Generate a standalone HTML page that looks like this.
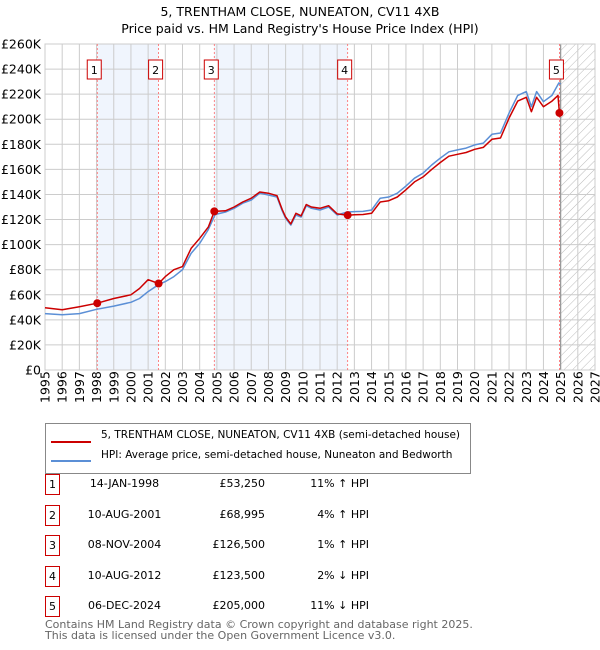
<!DOCTYPE html>
<html><head><meta charset="utf-8">
<style>
body{margin:0;background:#fff;font-family:"DejaVu Sans","Liberation Sans",sans-serif;}
#wrap{position:relative;width:600px;height:650px;overflow:hidden;}
.t{position:absolute;font-size:11px;color:#000;white-space:nowrap;}
.lg{font-size:10.5px;}
.nb{position:absolute;left:45px;width:13px;height:19px;border:1px solid #c00;font-size:11px;text-align:center;line-height:19px;}
</style></head><body>
<div id="wrap">
<svg id="svg" width="600" height="420" style="position:absolute;left:0;top:0"></svg>
<div style="position:absolute;left:45px;top:423px;width:424px;height:49px;border:1px solid #888;">
 <div><div style="position:absolute;left:5px;top:17px;width:40px;height:2px;background:#c00"></div><span class="t lg" style="left:55px;top:5px">5, TRENTHAM CLOSE, NUNEATON, CV11 4XB (semi-detached house)</span></div>
 <div><div style="position:absolute;left:5px;top:36px;width:40px;height:2px;background:#5b8fd6"></div><span class="t lg" style="left:55px;top:25px">HPI: Average price, semi-detached house, Nuneaton and Bedworth</span></div>
</div>
<div id="table"></div>
<div class="t" style="left:45px;top:619px;color:#666;line-height:11px;font-size:11px">Contains HM Land Registry data © Crown copyright and database right 2025.<br>This data is licensed under the Open Government Licence v3.0.</div>
</div>
<script>
const hpiYears=[1995,1996,1997,1998,1999,2000,2000.5,2001,2001.6,2002,2002.5,2003,2003.5,2004,2004.5,2004.9,2005.5,2006,2006.5,2007,2007.5,2008,2008.5,2008.8,2009,2009.3,2009.6,2009.9,2010.2,2010.5,2011,2011.5,2012,2012.6,2013,2013.5,2014,2014.5,2015,2015.5,2016,2016.5,2017,2017.5,2018,2018.5,2019,2019.5,2020,2020.5,2021,2021.5,2022,2022.5,2023,2023.3,2023.6,2024,2024.5,2024.9,2025];
const hpiValues=[45,44,45,48.4,51,54,57,62.5,68,70.5,74.5,80,93,101,112,124,126,129,133,135.6,141,139.6,138,127,121,115.6,123.6,122,131,129,127.6,130,123.6,126,126.3,126.5,127.6,137,138,141,146.7,153,157,163.5,169,174,175.5,177,179.5,181,188,189,205,219,222,210,222,214,219,229,228];
const priceYears=[1995,1996,1997,1998.04,1999,2000,2000.5,2001,2001.61,2002,2002.5,2003,2003.5,2004,2004.5,2004.85,2005.5,2006,2006.5,2007,2007.5,2008,2008.5,2008.8,2009,2009.3,2009.6,2009.9,2010.2,2010.5,2011,2011.5,2012,2012.61,2013,2013.5,2014,2014.5,2015,2015.5,2016,2016.5,2017,2017.5,2018,2018.5,2019,2019.5,2020,2020.5,2021,2021.5,2022,2022.5,2023,2023.3,2023.6,2024,2024.5,2024.85,2024.93,2025];
const priceValues=[49.7,48,50.5,53.25,57,60,65,72,69,74.5,80,82.5,97,105,114,126.5,127,130,134,137,142,141,139,128,122,116.5,125,123,132,130,129,131,124.5,123.5,123.8,124,125,134,135,138,143.7,150,154,160,165.5,170.5,172,173.5,176,177.5,184,185,201,214.5,217.5,206,217.5,210,214.5,219,205,205];
const yTicks=[0,20,40,60,80,100,120,140,160,180,200,220,240,260];
const sales=[{n:1,y:1998.04,v:53.25,d:"14-JAN-1998",p:"£53,250",h:"11% ↑ HPI"},{n:2,y:2001.61,v:68.995,d:"10-AUG-2001",p:"£68,995",h:"4% ↑ HPI"},{n:3,y:2004.85,v:126.5,d:"08-NOV-2004",p:"£126,500",h:"1% ↑ HPI"},{n:4,y:2012.61,v:123.5,d:"10-AUG-2012",p:"£123,500",h:"2% ↓ HPI"},{n:5,y:2024.93,v:205,d:"06-DEC-2024",p:"£205,000",h:"11% ↓ HPI"}];
const L=45,R=595,T=44,B=370,X0=1995,X1=2027,YM=260;
const X=y=>L+(y-X0)/(X1-X0)*(R-L);
const Y=v=>B-v/YM*(B-T);
const NS="http://www.w3.org/2000/svg";
const svg=document.getElementById('svg');
function mk(tag,at,parent){const e=document.createElementNS(NS,tag);for(const k in at)e.setAttribute(k,at[k]);(parent||svg).appendChild(e);return e;}
const defs=mk('defs',{});
const pat=mk('pattern',{id:'hatch',width:6,height:6,patternUnits:'userSpaceOnUse',patternTransform:'rotate(45)'},defs);
mk('line',{x1:0,y1:0,x2:0,y2:6,stroke:'#bbb','stroke-width':1},pat);
const bands=[[0,1],[2,3],[4,null]];
bands.forEach((b,i)=>{const x1=X(sales[b[0]].y),x2=b[1]===null?X(2025):X(sales[b[1]].y);
 const r=mk('rect',{x:x1,y:T,width:x2-x1,height:B-T,fill:'#f0f5fd'});
 
 });
const hr=mk('rect',{x:X(2025),y:T,width:R-X(2025),height:B-T,fill:'url(#hatch)'});


for(let yr=X0;yr<=X1;yr++){const l=mk('line',{x1:X(yr),x2:X(yr),y1:T,y2:B,stroke:'#ccc','stroke-width':1});
 
 
 const tx=mk('text',{x:0,y:0,transform:`translate(${X(yr)+4.5},${B+33}) rotate(-90)`,'font-size':'12.5','font-family':'DejaVu Sans, sans-serif'});
 tx.textContent=yr;
 
 }
yTicks.forEach(v=>{const l=mk('line',{x1:L,x2:R,y1:Y(v),y2:Y(v),stroke:'#ccc','stroke-width':1});
 
 
 const tx=mk('text',{x:L-4,y:Y(v)+4.5,'text-anchor':'end','font-size':'12.5','font-family':'DejaVu Sans, sans-serif'});
 tx.textContent=v===0?'£0':'£'+v+'K';
 
 });
const vl=mk('line',{x1:X(2025),x2:X(2025),y1:T,y2:B,stroke:'#999','stroke-width':1.2});


const fr=mk('rect',{x:L,y:T,width:R-L,height:B-T,fill:'none',stroke:'#ccc'});


sales.forEach(s=>{const l=mk('line',{x1:X(s.y),x2:X(s.y),y1:T,y2:B,stroke:'#f66','stroke-width':0.8,'stroke-dasharray':'2,2'});
 
 
 const g=mk('g',{});
 
 
 mk('rect',{x:X(s.y)-10,y:60,width:14,height:19,fill:'#fff',stroke:'#c00'},g);
 const t=mk('text',{x:X(s.y)-3,y:74,'text-anchor':'middle','font-size':'11','font-family':'DejaVu Sans, sans-serif'},g);t.textContent=s.n;});
function line(xs,vs,color,name){const d=xs.map((x,i)=>(i?'L':'M')+X(x).toFixed(1)+','+Y(vs[i]).toFixed(1)).join('');
 const p=mk('path',{d:d,fill:'none',stroke:color,'stroke-width':1.5,'stroke-linejoin':'round'});
 
 }
line(hpiYears,hpiValues,'#5b8fd6','hpi-line');
line(priceYears,priceValues,'#c00','price-line');
sales.forEach(s=>{const c=mk('circle',{cx:X(s.y),cy:Y(s.v),r:4,fill:'#c00'});
 
 });
const tt=mk('text',{x:300,y:16,'text-anchor':'middle','font-size':'12.5','font-family':'DejaVu Sans, sans-serif'});tt.textContent='5, TRENTHAM CLOSE, NUNEATON, CV11 4XB';


const st=mk('text',{x:300,y:33,'text-anchor':'middle','font-size':'12.5','font-family':'DejaVu Sans, sans-serif'});st.textContent="Price paid vs. HM Land Registry's House Price Index (HPI)";


const tb=document.getElementById('table');
sales.forEach((s,i)=>{const top=474+i*30.5;const row=document.createElement('div');
 
 
 row.innerHTML=`<div class="nb" style="top:${top}px">${s.n}</div><span class="t" style="left:82px;width:85px;text-align:center;top:${top+3}px">${s.d}</span><span class="t" style="left:185px;width:80px;text-align:right;top:${top+3}px">${s.p}</span><span class="t" style="left:290px;width:79px;text-align:right;top:${top+3}px">${s.h}</span>`;
 tb.appendChild(row);});
</script>
</body></html>
